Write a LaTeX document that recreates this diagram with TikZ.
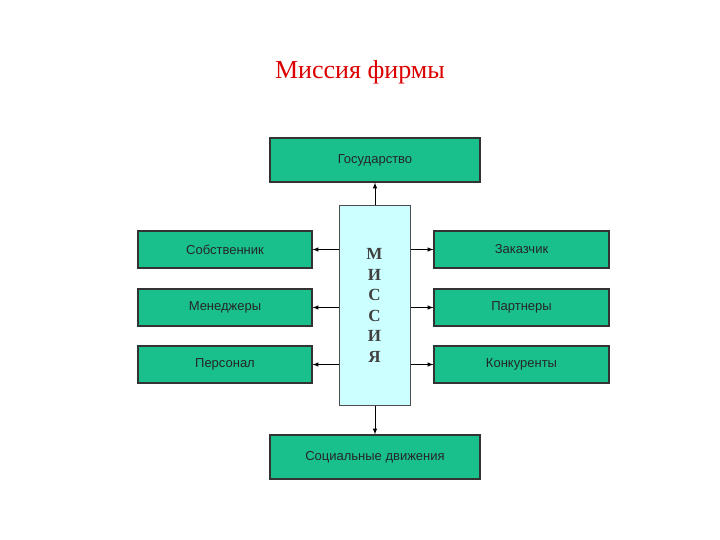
\documentclass[tikz,border=0pt]{standalone}
\usepackage{fontspec}
\setmainfont{Liberation Serif}
\newfontfamily\sansf{Liberation Sans}
\begin{document}
\begin{tikzpicture}[x=1pt,y=-1pt,
 gbox/.style={draw=black!80,line width=1.2pt,fill={rgb,255:red,25;green,192;blue,140},font=\sansf\fontsize{13}{15}\selectfont,text=black!85,inner sep=0pt},
 arr/.style={-latex,line width=1pt}]
\useasboundingbox (0,0) rectangle (720,540);
\node[text={rgb,255:red,220;green,0;blue,0},font=\fontsize{26}{30}\selectfont] (title) at (360,72) {Миссия фирмы};
\node[draw=black!70,line width=1pt,fill={rgb,255:red,204;green,255;blue,255},minimum width=71,minimum height=199,inner sep=0pt,font=\bfseries\fontsize{17}{20.5}\selectfont,text=black!75,align=center] (m) at (374.5,305.5) {М\\И\\С\\С\\И\\Я};
\node[gbox,minimum width=210,minimum height=44] (g) at (375,160) {Государство};
\node[gbox,minimum width=210,minimum height=44] (s) at (375,457) {Социальные движения};
\foreach \n/\t/\y in {a/Собственник/249.5,b/Менеджеры/307.5,c/Персонал/364.5}{
 \node[gbox,minimum width=174,minimum height=37] (\n) at (225,\y) {\t};
 \draw[arr] (m.west|-\n.east) -- (\n.east);}
\foreach \n/\t/\y in {d/Заказчик/249.5,e/Партнеры/307.5,f/Конкуренты/364.5}{
 \node[gbox,minimum width=175,minimum height=37] (\n) at (521.5,\y) {\t};
 \draw[arr] (m.east|-\n.west) -- (\n.west);}
\draw[arr] (m.north-|g.south) -- (g.south);
\draw[arr] (m.south-|s.north) -- (s.north);
\end{tikzpicture}
\end{document}
